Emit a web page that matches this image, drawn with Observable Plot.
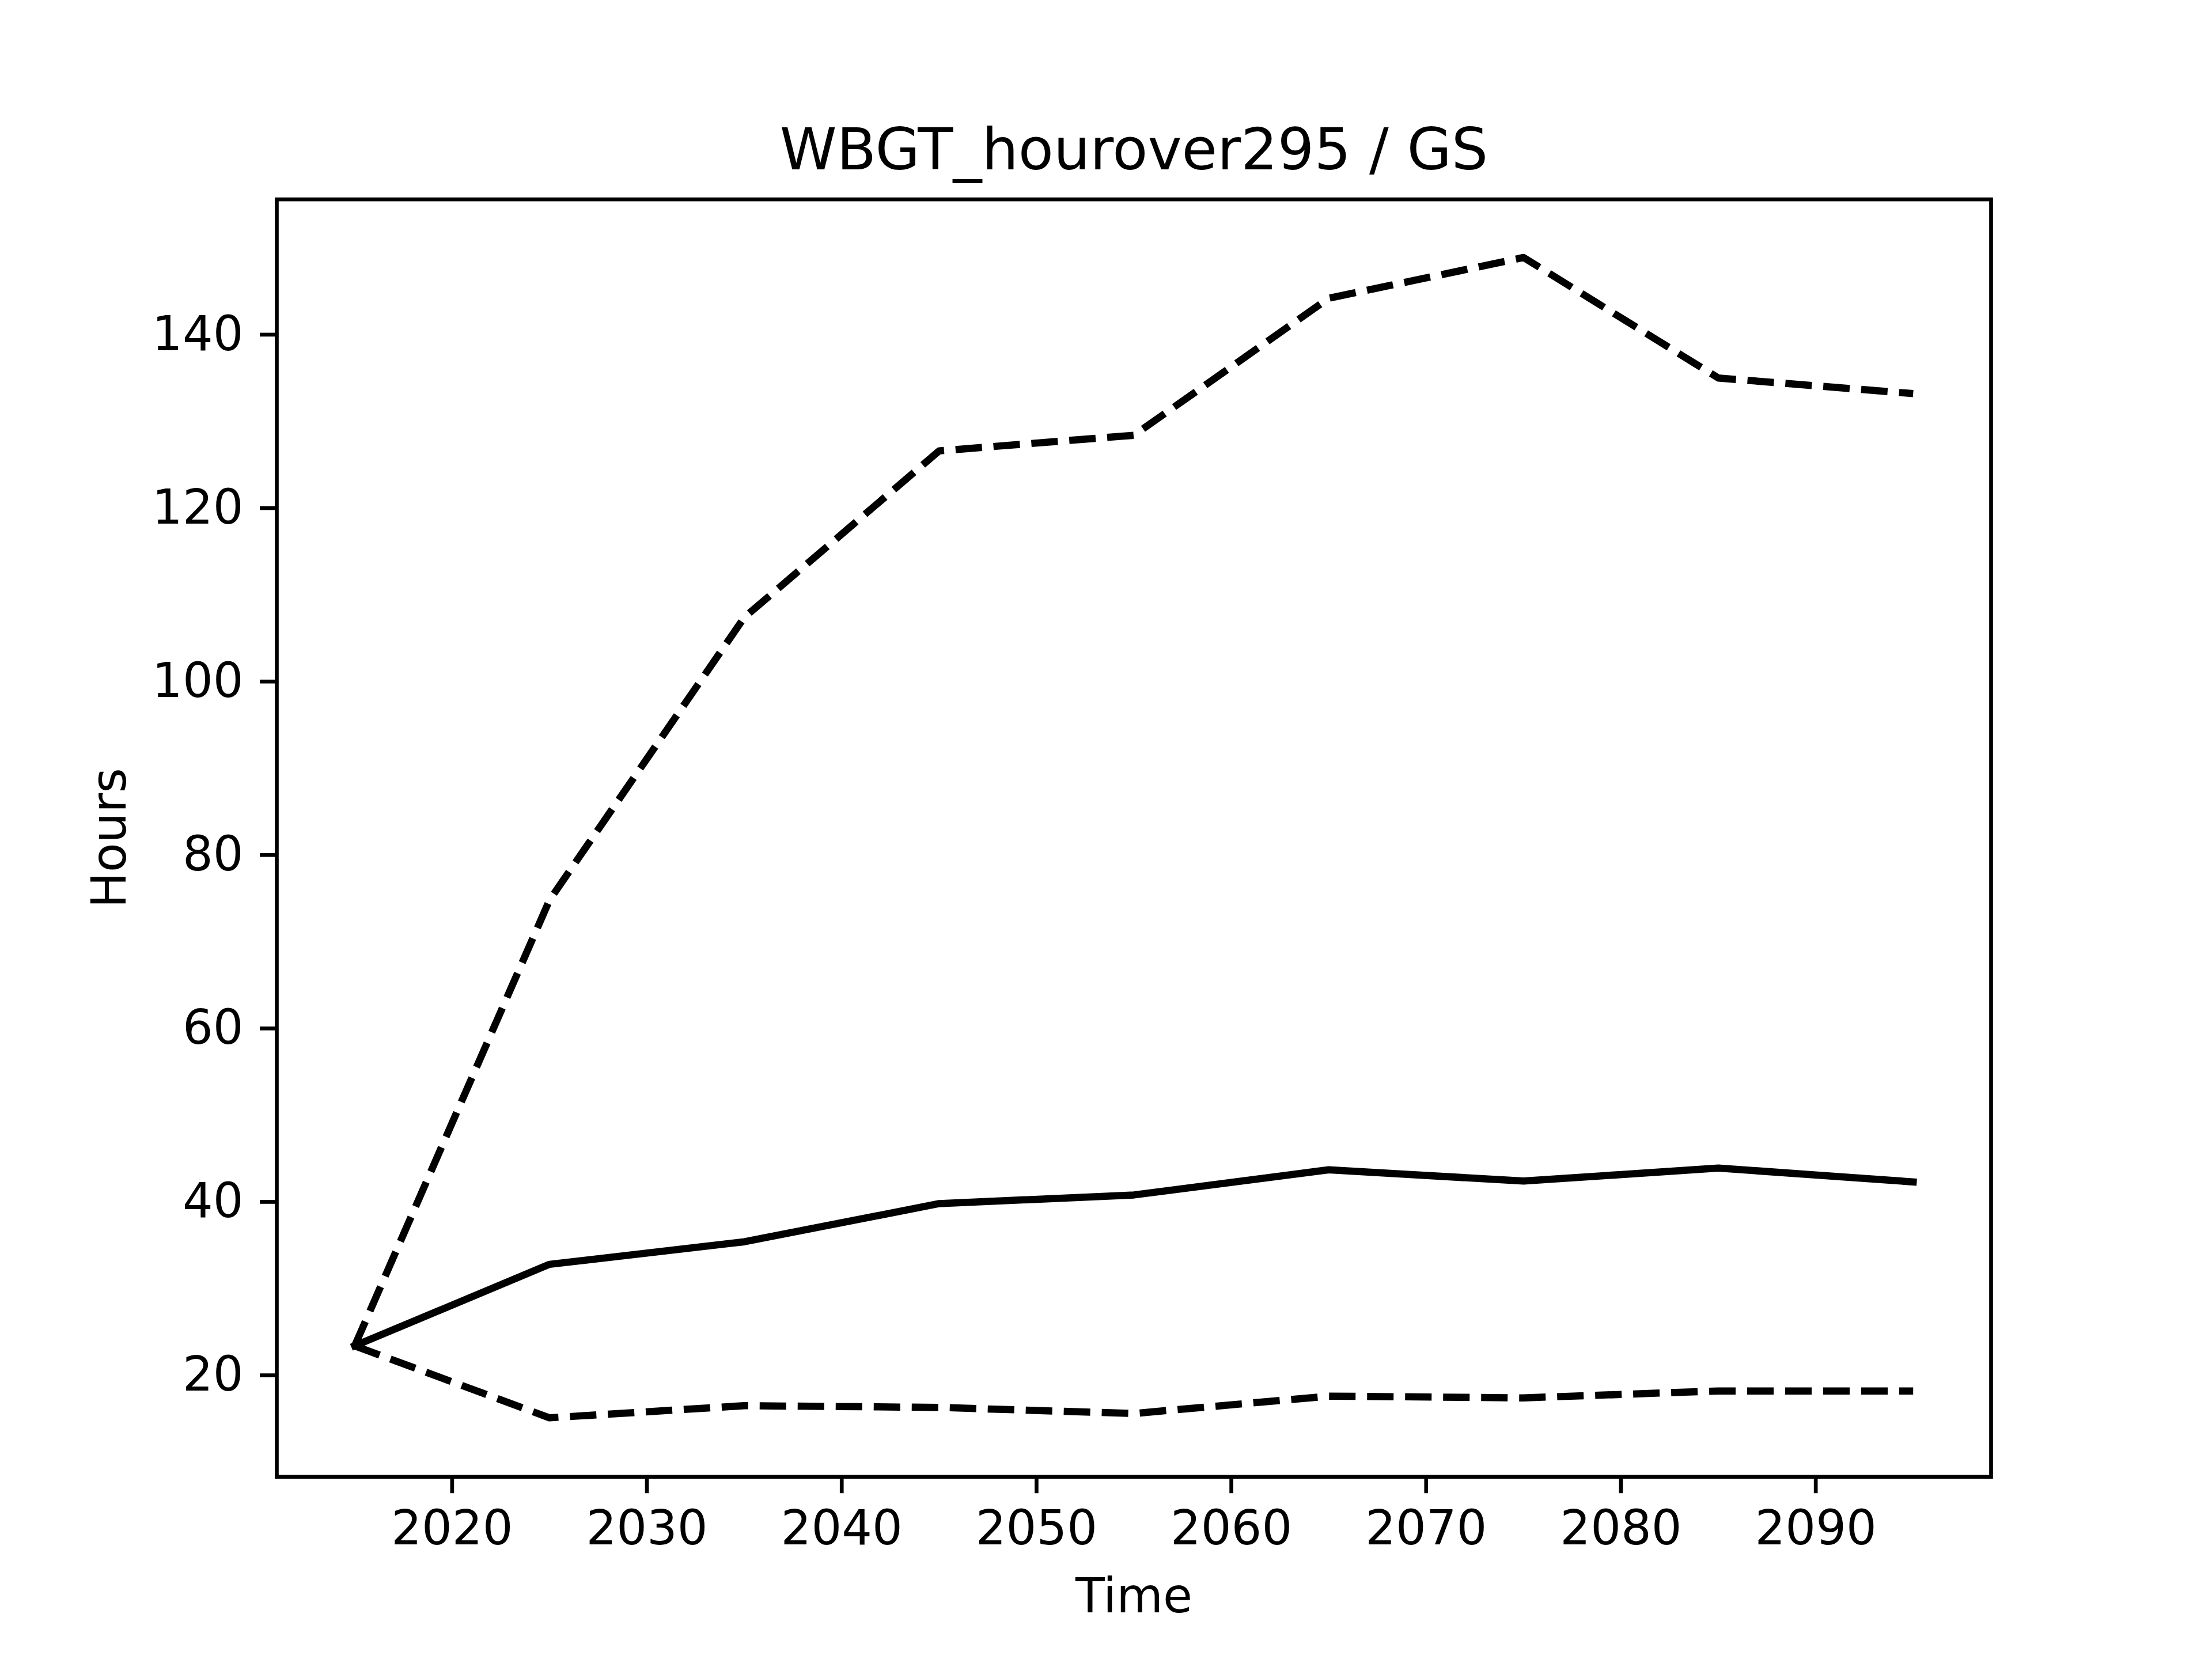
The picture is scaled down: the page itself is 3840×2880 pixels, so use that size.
<!DOCTYPE html>
<html>
<head>
<meta charset="utf-8">
<script src="https://cdn.jsdelivr.net/npm/d3@7"></script>
<script src="https://cdn.jsdelivr.net/npm/@observablehq/plot@0.6"></script>
<style>
  html, body { margin: 0; padding: 0; background: white; }
  svg { display: block; }
</style>
</head>
<body>
<div id="chart"></div>
<script>
const years = [2015, 2025, 2035, 2045, 2055, 2065, 2075, 2085, 2095];
const meanVals  = [23.4, 32.8, 35.4, 39.8, 40.8, 43.7, 42.4, 43.9, 42.3];
const upperVals = [23.4, 74.8, 107.4, 126.6, 128.4, 144.2, 148.9, 135.0, 133.2];
const lowerVals = [23.4, 15.1, 16.5, 16.3, 15.6, 17.6, 17.4, 18.2, 18.2];
const xTicks = [2020, 2030, 2040, 2050, 2060, 2070, 2080, 2090];
const yTicks = [20, 40, 60, 80, 100, 120, 140];
const titleText = "WBGT_hourover295 / GS";
const xLabel = "Time";
const yLabel = "Hours";

const mk = vals => years.map((yr, i) => ({year: yr, value: vals[i]}));

const W = 3840, H = 2880;
const mL = 480, mR = 384, mT = 345.6, mB = 316.8;
const lw = 12.5, spine = 6.67;

const chart = Plot.plot({
  width: W, height: H,
  marginLeft: mL, marginRight: mR, marginTop: mT, marginBottom: mB,
  style: {fontFamily: "DejaVu Sans", background: "white", color: "black"},
  x: {domain: [2011, 2099]},
  y: {domain: [8.3, 155.6]},
  marks: [
    Plot.line(mk(upperVals), {x: "year", y: "value", stroke: "black", strokeWidth: lw, strokeDasharray: "46,20", strokeLinecap: "butt", strokeLinejoin: "round"}),
    Plot.line(mk(lowerVals), {x: "year", y: "value", stroke: "black", strokeWidth: lw, strokeDasharray: "46,20", strokeLinecap: "butt", strokeLinejoin: "round"}),
    Plot.line(mk(meanVals), {x: "year", y: "value", stroke: "black", strokeWidth: lw, strokeLinecap: "square", strokeLinejoin: "round"}),
    Plot.frame({stroke: "black", strokeWidth: spine}),
    Plot.axisX({ticks: xTicks, tickFormat: d => String(d), tickSize: 29, tickPadding: 29, fontSize: 83, strokeWidth: spine, label: null}),
    Plot.axisY({ticks: yTicks, tickFormat: d => String(d), tickSize: 29, tickPadding: 29, fontSize: 83, strokeWidth: spine, label: null}),
    Plot.text([titleText], {frameAnchor: "top", lineAnchor: "middle", textAnchor: "middle", dy: -84, fontSize: 100, fill: "black"}),
    Plot.text([xLabel], {frameAnchor: "bottom", lineAnchor: "middle", textAnchor: "middle", dy: 209, fontSize: 83, fill: "black"}),
    Plot.text([yLabel], {frameAnchor: "left", lineAnchor: "middle", textAnchor: "middle", dx: -289, rotate: -90, fontSize: 83, fill: "black"})
  ]
});
document.getElementById("chart").appendChild(chart);
</script>
</body>
</html>
